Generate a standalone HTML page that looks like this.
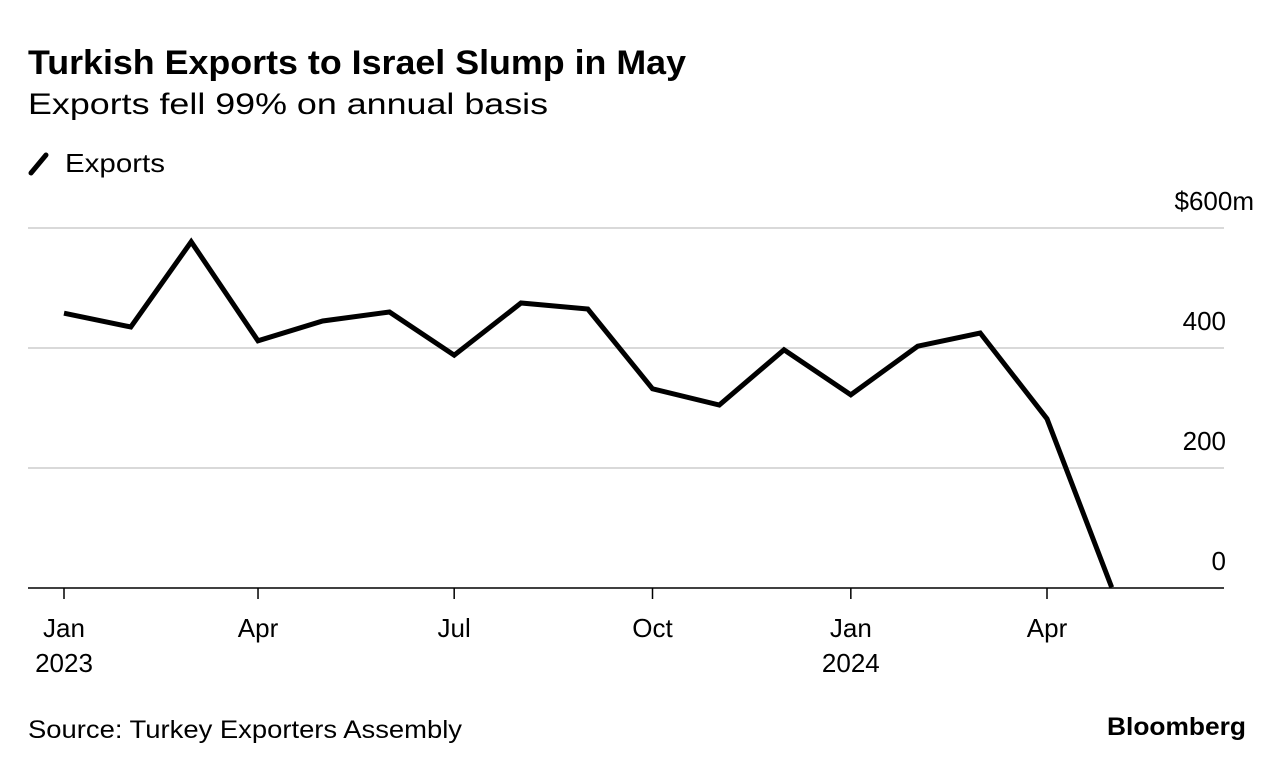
<!DOCTYPE html>
<html><head><meta charset="utf-8"><style>
html,body{margin:0;padding:0;background:#fff;}
svg{display:block;font-family:"Liberation Sans",Arial,sans-serif;}
</style></head><body>
<svg id="chart" width="1285" height="770" viewBox="0 0 1285 770">
  <text x="28" y="74" font-size="34" font-weight="bold" textLength="658" lengthAdjust="spacingAndGlyphs" fill="#000">Turkish Exports to Israel Slump in May</text>
  <text x="28" y="114" font-size="30" textLength="520" lengthAdjust="spacingAndGlyphs" fill="#000">Exports fell 99% on annual basis</text>
  <g>
    <line x1="31" y1="173" x2="46" y2="155" stroke="#000" stroke-width="5" stroke-linecap="round"/>
    <text x="65" y="172" font-size="26" textLength="100" lengthAdjust="spacingAndGlyphs" fill="#000">Exports</text>
  </g>
  <g id="grid"></g>
  <g id="xaxis"></g>
  <g id="yaxis"></g>
  <path id="line" fill="none" stroke="#000" stroke-width="5" stroke-linejoin="miter"/>
  <text x="28" y="738" font-size="25" textLength="434" lengthAdjust="spacingAndGlyphs" fill="#000">Source: Turkey Exporters Assembly</text>
  <text x="1107" y="735" font-size="25" font-weight="bold" textLength="139" lengthAdjust="spacingAndGlyphs" fill="#000">Bloomberg</text>
</svg>
<script>
const dates = ["2023-01-01","2023-02-01","2023-03-01","2023-04-01","2023-05-01","2023-06-01","2023-07-01","2023-08-01","2023-09-01","2023-10-01","2023-11-01","2023-12-01","2024-01-01","2024-02-01","2024-03-01","2024-04-01","2024-05-01"];
const exportsValues = [458,435,577,412,445,460,388,475,465,332,305,397,322,403,425,282,1];
const yTicks = [0,200,400,600];
const yTickLabels = ["0","200","400","$600m"];
const xTickDates = ["2023-01-01","2023-04-01","2023-07-01","2023-10-01","2024-01-01","2024-04-01"];
const xTickLabels = ["Jan","Apr","Jul","Oct","Jan","Apr"];
const xTickYears = ["2023","","","","2024",""];

const NS="http://www.w3.org/2000/svg";
const t0=Date.parse("2023-01-01"), t1=Date.parse("2024-04-01");
function xs(d){return 64+(Date.parse(d)-t0)/(t1-t0)*(1047-64);}
function ys(v){return 588-v*0.6;}
function mk(tag,attrs,parent){const e=document.createElementNS(NS,tag);for(const k in attrs)e.setAttribute(k,attrs[k]);parent.appendChild(e);return e;}

const grid=document.getElementById('grid'), ya=document.getElementById('yaxis'), xa=document.getElementById('xaxis');
yTicks.forEach((v,i)=>{
  const l=mk('line',{x1:28,x2:1224,y1:ys(v),y2:ys(v),stroke:v===0?'#000':'#d9d9d9','stroke-width':v===0?1.5:2},grid);
  
  
  const lbl=yTickLabels[i];
  const tx=mk('text',{x:lbl.startsWith('$')?1254:1226,y:ys(v)-18,'font-size':26,'text-anchor':'end',fill:'#000'},ya);
  tx.textContent=lbl;
  
  
});
xTickDates.forEach((d,i)=>{
  const x=xs(d);
  const tk=mk('line',{x1:x,x2:x,y1:588,y2:599,stroke:'#000','stroke-width':1.5},xa);
  
  
  const tx=mk('text',{x:x,y:637,'font-size':26,'text-anchor':'middle',fill:'#000'},xa);
  tx.textContent=xTickLabels[i];
  
  
  if(xTickYears[i]){
    const ty=mk('text',{x:x,y:672,'font-size':26,'text-anchor':'middle',fill:'#000'},xa);
    ty.textContent=xTickYears[i];
    
    
  }
});
document.getElementById('line').setAttribute('d',dates.map((d,i)=>(i?'L':'M')+xs(d).toFixed(1)+' '+ys(exportsValues[i]).toFixed(1)).join(' '));
</script>
</body></html>
